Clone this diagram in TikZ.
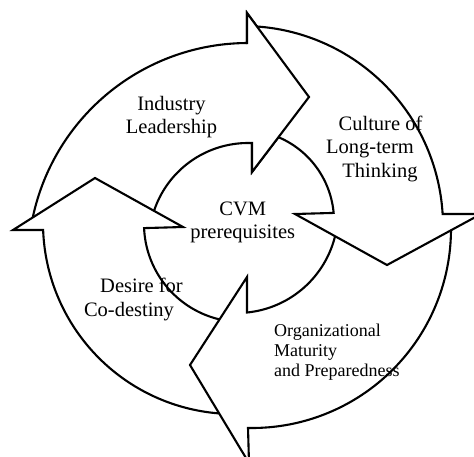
\documentclass[tikz,border=0pt]{standalone}
\usepackage{fontspec}
\setmainfont{Liberation Serif}
\begin{document}
\begin{tikzpicture}[x=1pt,y=-1pt,
  ring/.style={draw=black, fill=white, line width=2.1pt, line join=miter},
  headedge/.style={draw=black, line width=2.1pt, line cap=rect, line join=miter},
  lbl/.style={font=\fontsize{20.5}{23.7}\selectfont, align=center, inner sep=0pt, anchor=base},
  lblsmall/.style={font=\fontsize{18}{20}\selectfont, align=left, inner sep=0pt, anchor=base west}]
\useasboundingbox (0,0) rectangle (474,456);
\fill[white] (0,0) rectangle (474,456);
\clip (0,0) rectangle (474,456);

% head points of the top arrow (reused when its head is laid over the next tail)
\coordinate (iOut)  at (247,43);
\coordinate (iBarbO) at (247,13);
\coordinate (iTip)  at (309,97);
\coordinate (iBarbI) at (252,172);
\coordinate (iIn)   at (252,143);

% Industry Leadership: top arrow, pointing right
\path[ring] plot[domain=190.7:269.74, samples=80] ({248+220*cos(\x)},{263+220*sin(\x)})
  -- (iBarbO) -- (iTip) -- (iBarbI)
  -- plot[domain=272.3:191.65, samples=60] ({248+99*cos(\x)},{242+99*sin(\x)}) -- cycle;

% Desire for Co-destiny: left arrow, pointing up
\path[ring] plot[domain=88.8:177.9, samples=80] ({234+191*cos(\x)},{223+191*sin(\x)})
  -- (13,230) -- (95,178) -- (183,227)
  -- plot[domain=177.6:94.1, samples=60] ({242+98*cos(\x)},{224+98*sin(\x)}) -- cycle;

% Organizational Maturity: bottom arrow, pointing left
\path[ring] plot[domain=-2.6:91.15, samples=80] ({252+199*cos(\x)},{229+199*sin(\x)})
  -- (249,463) -- (190,365) -- (247,277)
  -- plot[domain=84.3:5.68, samples=60] ({237+101*cos(\x)},{212+101*sin(\x)}) -- cycle;

% Culture of Long-term Thinking: right arrow, pointing down
\path[ring] plot[domain=272.29:356.56, samples=80] ({243+200*cos(\x)},{226+200*sin(\x)})
  -- (481,214) -- (387,265) -- (295,214)
  -- plot[domain=354.9:282.05, samples=60] ({243+91*cos(\x)},{221+91*sin(\x)}) -- cycle;

% the top arrow's head covers the tail of the right arrow
\fill[white] (iOut) -- (iBarbO) -- (iTip) -- (iBarbI) -- (iIn) -- cycle;
\draw[headedge] (iOut) -- (iBarbO) -- (iTip) -- (iBarbI) -- (iIn);

% labels (anchored at the baseline of their last line)
\node[lbl] (industry) at (171.5,133.7) {Industry\\Leadership};
\node[lbl] (culture) at (377,177.4) {\hspace*{7pt}Culture of\\Long-term\kern14pt\\\hspace*{6pt}Thinking};
\node[lbl] (cvm) at (242.75,238.7) {CVM\\prerequisites};
\node[lbl] (desire) at (135.25,316.4) {\hspace*{12.5pt}Desire for\\Co-destiny\kern12.5pt};
\node[lblsmall] (org) at (274,376) {Organizational\\Maturity\\and Preparedness};
\end{tikzpicture}
\end{document}
